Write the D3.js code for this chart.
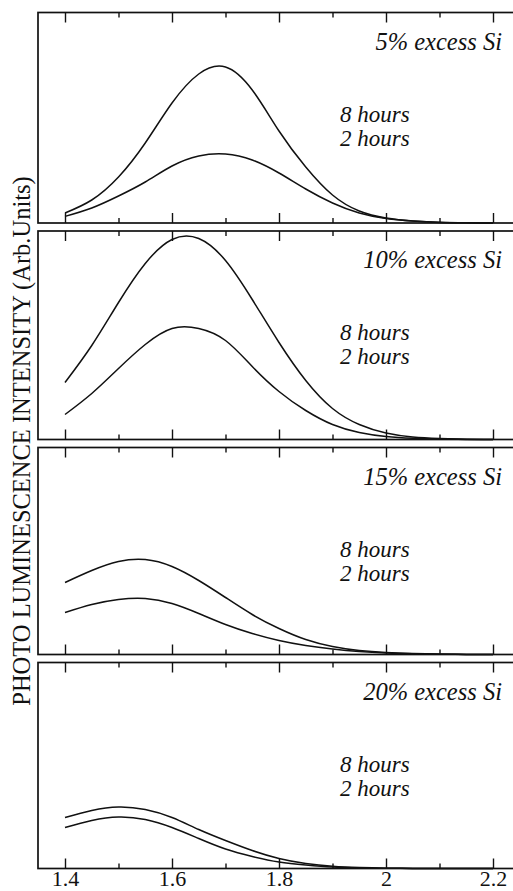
<!DOCTYPE html>
<html>
<head>
<meta charset="utf-8">
<script src="https://cdn.jsdelivr.net/npm/d3@7"></script>
<style>
  body { margin: 0; background: #fff; }
  svg { display: block; }
</style>
</head>
<body>
<div class="box"></div>
<script>
// photon energy (eV) at which the curves were read
const energy = [1.40, 1.45, 1.50, 1.55, 1.60, 1.65, 1.70, 1.75, 1.80, 1.85, 1.90, 1.95, 2.00, 2.05, 2.10, 2.15, 2.20];

const panelLabels = ["5% excess Si", "10% excess Si", "15% excess Si", "20% excess Si"];
const seriesLabels = ["8 hours", "2 hours"];

// PL intensity (arb. units)
const pl5_8h  = [10, 23, 46, 80, 120, 149, 156, 133, 92, 56, 28, 12, 5, 2, 0.6, 0.2, 0];
const pl5_2h  = [6.6, 15, 27, 41, 57, 67, 69, 63, 50, 34, 20, 10, 4.5, 2, 0.7, 0.2, 0];
const pl10_8h = [57, 94, 137, 176, 200, 201, 179, 140, 97, 59, 31, 15, 6.5, 2.5, 1, 0.3, 0];
const pl10_2h = [25, 46, 71, 95, 111, 111, 99, 73, 48, 29, 15, 7, 3, 1.2, 0.4, 0.1, 0];
const pl15_8h = [72, 84, 93, 95, 88, 74, 57, 40, 26, 15, 8, 4, 2, 1, 0.4, 0.1, 0];
const pl15_2h = [42, 50, 55, 56, 51, 41, 30, 21, 14, 9, 5.5, 3, 1.5, 0.7, 0.3, 0.1, 0];
const pl20_8h = [51, 58, 61.5, 59, 51, 39, 28, 18, 10, 5, 2.2, 0.9, 0.3, 0.1, 0, 0, 0];
const pl20_2h = [41, 48, 51.5, 49, 41, 30, 19.5, 12, 6.5, 3.5, 1.5, 0.6, 0.2, 0.1, 0, 0, 0];

const majorTicks = [1.4, 1.6, 1.8, 2.0, 2.2];
const minorTicks = [1.5, 1.7, 1.9, 2.1];

const panels = [
  { label: panelLabels[0], series: [pl5_8h, pl5_2h] },
  { label: panelLabels[1], series: [pl10_8h, pl10_2h] },
  { label: panelLabels[2], series: [pl15_8h, pl15_2h] },
  { label: panelLabels[3], series: [pl20_8h, pl20_2h] }
];

const width = 513, height = 891;
const left = 38, right = 540;
const tops = [12.5, 231, 447.5, 662.5];
const bottoms = [223, 439.5, 654.5, 868.5];
const serif = "'Liberation Serif', 'Times New Roman', serif";
const ink = "#111";

const x = d3.scaleLinear().domain([1.4, 2.2]).range([65, 493]);

const svg = d3.create("svg")
  .attr("width", width)
  .attr("height", height)
  .attr("viewBox", [0, 0, width, height]);

panels.forEach(function (p, i) {
  const top = tops[i], bottom = bottoms[i];
  const y = d3.scaleLinear().domain([0, 210]).range([bottom, bottom - 210]);
  const g = svg.append("g");

  // frame (right side runs off the page like in the scan)
  g.append("rect")
    .attr("x", left).attr("y", top)
    .attr("width", right - left).attr("height", bottom - top)
    .attr("fill", "none").attr("stroke", ink).attr("stroke-width", 1.7);

  // ticks on top (pointing down) and bottom (pointing up)
  const addTicks = function (axisFn, yPos, vals, size) {
    g.append("g")
      .attr("transform", `translate(0,${yPos})`)
      .call(axisFn(x).tickValues(vals).tickSize(size).tickFormat(""))
      .call(a => a.select(".domain").remove())
      .call(a => a.selectAll("line").attr("stroke", ink).attr("stroke-width", 1.4));
  };
  addTicks(d3.axisBottom, top, majorTicks, 10);
  addTicks(d3.axisBottom, top, minorTicks, 5);
  addTicks(d3.axisTop, bottom, majorTicks, 10);
  addTicks(d3.axisTop, bottom, minorTicks, 5);

  const line = d3.line()
    .x((d, j) => x(energy[j]))
    .y(d => y(d))
    .curve(d3.curveNatural);

  g.append("g")
    .attr("fill", "none")
    .attr("stroke", ink)
    .attr("stroke-width", 1.5)
    .selectAll("path")
    .data(p.series)
    .join("path")
    .attr("d", line);

  g.append("text")
    .attr("x", 502).attr("y", top + 37)
    .attr("text-anchor", "end")
    .attr("font-family", serif).attr("font-style", "italic")
    .attr("font-size", 24.5).attr("fill", ink)
    .text(p.label);

  g.selectAll("text.series")
    .data(seriesLabels)
    .join("text")
    .attr("class", "series")
    .attr("x", 340)
    .attr("y", (d, j) => top + 109 + j * 24)
    .attr("font-family", serif).attr("font-style", "italic")
    .attr("font-size", 23).attr("fill", ink)
    .text(d => d);

  if (i === panels.length - 1) {
    g.append("g")
      .attr("transform", `translate(0,${bottom})`)
      .call(d3.axisBottom(x).tickValues(majorTicks).tickSize(0).tickFormat(d3.format("~g")))
      .call(a => a.select(".domain").remove())
      .call(a => a.selectAll("text")
        .attr("y", 17.5).attr("dy", null)
        .attr("font-family", serif).attr("font-size", 22).attr("fill", ink));
  }
});

svg.append("text")
  .attr("transform", "translate(30,441) rotate(-90)")
  .attr("text-anchor", "middle")
  .attr("font-family", serif)
  .attr("font-size", 24.5)
  .attr("fill", ink)
  .text("PHOTO LUMINESCENCE INTENSITY (Arb.Units)");

document.querySelector(".box").appendChild(svg.node());
</script>
</body>
</html>
